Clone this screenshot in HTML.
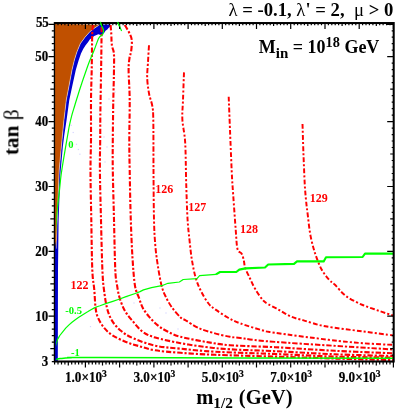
<!DOCTYPE html>
<html><head><meta charset="utf-8"><title>plot</title>
<style>html,body{margin:0;padding:0;background:#fff;}body{width:395px;height:415px;position:relative;overflow:hidden;font-family:"Liberation Serif",serif;}</style>
</head><body>
<svg width="395" height="415" viewBox="0 0 395 415" style="position:absolute;left:0;top:0">
<rect width="395" height="415" fill="#fff"/>
<polygon points="110.6,24.5 109.9,27.0 108.5,28.0 107.3,29.6 105.5,30.8 104.3,32.7 103.3,33.5 102.3,35.2 100.0,34.7 98.2,34.2 96.0,35.3 94.2,36.0 92.0,37.8 90.0,39.2 87.8,42.5 85.6,45.3 83.2,49.0 81.0,53.5 78.6,60.5 75.8,70.0 72.5,85.0 69.3,100.0 66.5,120.6 64.3,135.0 62.9,146.0 60.3,175.0 58.6,220.0 58.0,270.0 57.8,361.0 55.2,361.0 55.2,248.0 56.2,248.5 57.2,220.0 59.2,170.0 61.4,146.0 63.9,120.6 66.3,100.0 69.2,85.0 72.0,70.0 74.4,60.0 76.9,52.0 80.4,43.5 85.0,37.2 90.0,31.6 93.2,29.1 97.7,26.0 99.7,24.5" fill="#0000cd"/>
<polygon points="55.2,23.5 99.7,24.5 97.7,26.0 93.2,29.1 90.0,31.6 85.0,37.2 80.4,43.5 76.9,52.0 74.4,60.0 72.0,70.0 69.2,85.0 66.3,100.0 63.9,120.6 61.4,146.0 59.2,170.0 57.2,220.0 56.2,248.5 55.2,248.5" fill="#c05000" stroke="#fff" stroke-width="0.5"/>
<rect x="177.4" y="328.4" width="1.2" height="1.2" fill="#d4d4ff"/>
<rect x="89.9" y="326.0" width="1.2" height="1.2" fill="#d4d4ff"/>
<rect x="75.9" y="143.7" width="1.2" height="1.2" fill="#d4d4ff"/>
<rect x="77.8" y="148.9" width="1.2" height="1.2" fill="#d4d4ff"/>
<rect x="79.3" y="153.6" width="1.2" height="1.2" fill="#d4d4ff"/>
<rect x="70.6" y="124.8" width="1.2" height="1.2" fill="#d4d4ff"/>
<rect x="72.6" y="131.9" width="1.2" height="1.2" fill="#d4d4ff"/>
<rect x="114.4" y="91.4" width="1.2" height="1.2" fill="#d4d4ff"/>
<rect x="108.4" y="98.4" width="1.2" height="1.2" fill="#d4d4ff"/>
<rect x="103.4" y="136.4" width="1.2" height="1.2" fill="#d4d4ff"/>
<rect x="106.4" y="146.4" width="1.2" height="1.2" fill="#d4d4ff"/>
<rect x="104.4" y="161.4" width="1.2" height="1.2" fill="#d4d4ff"/>
<rect x="126.4" y="296.4" width="1.2" height="1.2" fill="#d4d4ff"/>
<rect x="133.4" y="302.4" width="1.2" height="1.2" fill="#d4d4ff"/>
<rect x="159.4" y="307.4" width="1.2" height="1.2" fill="#d4d4ff"/>
<rect x="165.4" y="312.4" width="1.2" height="1.2" fill="#d4d4ff"/>
<path d="M93.0 25.0C92.9 26.7 92.4 27.5 92.2 35.0C92.0 42.5 91.9 59.2 91.7 70.0C91.5 80.8 91.1 88.3 91.0 100.0C90.9 111.7 91.1 128.3 91.0 140.0C90.9 151.7 90.5 156.7 90.5 170.0C90.5 183.3 91.0 203.3 91.3 220.0C91.6 236.7 91.8 258.3 92.3 270.0C92.8 281.7 93.8 283.7 94.3 290.0C94.8 296.3 95.0 303.3 95.6 308.0C96.2 312.7 96.6 314.6 98.1 318.0C99.6 321.4 101.9 325.2 104.4 328.2C106.9 331.2 109.7 333.5 113.3 335.8C116.9 338.1 121.8 340.3 126.0 342.0C130.2 343.7 133.7 344.6 138.6 346.0C143.5 347.4 148.3 349.2 155.3 350.3C162.3 351.4 170.7 352.1 180.6 352.8C190.5 353.6 199.3 354.2 215.0 354.8C230.7 355.4 255.0 356.0 275.0 356.6C295.0 357.2 315.3 358.0 335.0 358.6C354.7 359.2 383.3 359.8 393.0 360.0" fill="none" stroke="#ff0000" stroke-width="2.1" stroke-dasharray="5.3 1.9 2.2 1.9"/>
<path d="M101.6 27.0C101.6 29.2 101.6 32.8 101.5 40.0C101.4 47.2 101.3 58.3 101.1 70.0C100.9 81.7 100.6 98.3 100.4 110.0C100.2 121.7 100.3 130.0 100.2 140.0C100.1 150.0 99.8 156.7 99.9 170.0C100.0 183.3 100.6 203.3 101.0 220.0C101.4 236.7 101.9 258.3 102.4 270.0C102.9 281.7 103.2 283.7 104.0 290.0C104.8 296.3 105.7 302.9 107.0 308.0C108.3 313.1 109.7 316.8 112.0 320.6C114.3 324.4 117.3 327.8 120.9 330.8C124.5 333.8 127.8 335.9 133.5 338.4C139.2 340.9 147.5 344.0 155.3 345.7C163.2 347.4 170.7 347.7 180.6 348.7C190.5 349.7 199.3 350.8 215.0 351.7C230.7 352.6 255.0 353.2 275.0 354.0C295.0 354.8 315.3 356.0 335.0 356.6C354.7 357.2 383.3 357.4 393.0 357.6" fill="none" stroke="#ff0000" stroke-width="2.1" stroke-dasharray="5.3 1.9 2.2 1.9"/>
<path d="M110.6 25.0C110.7 26.5 111.1 31.2 111.3 34.0C111.5 36.8 111.4 39.8 111.6 42.0C111.8 44.2 111.8 45.3 112.2 47.0C112.6 48.7 113.4 49.8 113.7 52.0C114.0 54.2 114.1 56.2 114.1 60.0C114.1 63.8 114.0 68.3 113.9 75.0C113.8 81.7 113.5 89.2 113.3 100.0C113.1 110.8 112.9 128.3 112.8 140.0C112.7 151.7 112.6 156.7 112.8 170.0C113.0 183.3 113.6 203.3 114.0 220.0C114.4 236.7 114.8 259.2 115.3 270.0C115.8 280.8 116.3 280.4 117.0 285.0C117.7 289.6 118.3 293.6 119.6 297.8C120.9 302.1 122.6 306.7 124.7 310.5C126.8 314.3 129.3 317.1 132.3 320.6C135.3 324.2 138.9 329.0 142.7 331.8C146.5 334.6 149.0 335.7 155.3 337.6C161.6 339.5 172.2 341.6 180.6 343.2C189.0 344.8 197.7 346.0 205.9 347.0C214.1 348.0 218.5 348.6 230.0 349.3C241.5 350.0 257.5 350.4 275.0 351.2C292.5 352.0 315.3 353.5 335.0 354.3C354.7 355.1 383.3 355.7 393.0 356.0" fill="none" stroke="#ff0000" stroke-width="2.1" stroke-dasharray="5.3 1.9 2.2 1.9"/>
<path d="M124.8 25.0C125.5 26.3 128.0 30.2 129.2 32.7C130.4 35.2 131.5 37.1 131.8 40.3C132.1 43.4 131.5 48.6 131.1 51.6C130.7 54.6 129.9 54.9 129.5 58.0C129.1 61.1 128.6 63.0 128.6 70.0C128.6 77.0 129.6 88.3 129.7 100.0C129.8 111.7 129.3 128.3 129.3 140.0C129.3 151.7 129.4 156.7 129.7 170.0C129.9 183.3 130.3 205.3 130.8 220.0C131.3 234.7 131.8 247.0 132.5 258.0C133.2 269.0 133.9 279.2 135.0 285.8C136.1 292.4 137.6 294.0 138.9 297.6C140.2 301.2 141.0 304.5 142.7 307.7C144.4 310.9 146.5 313.7 149.0 316.6C151.5 319.6 154.6 322.9 157.8 325.4C161.0 327.9 164.2 329.9 168.0 331.8C171.8 333.7 174.3 335.1 180.6 336.8C186.9 338.5 197.8 340.5 206.0 341.9C214.2 343.3 218.5 344.3 230.0 345.2C241.5 346.1 257.5 346.3 275.0 347.2C292.5 348.1 315.3 349.8 335.0 350.8C354.7 351.8 383.3 352.9 393.0 353.3" fill="none" stroke="#ff0000" stroke-width="2.1" stroke-dasharray="5.3 1.9 2.2 1.9"/>
<path d="M149.0 45.3C148.8 48.1 148.3 56.5 148.0 62.0C147.7 67.5 147.0 73.0 147.2 78.2C147.4 83.4 148.2 88.8 149.0 93.4C149.8 98.0 151.6 101.6 152.3 106.0C153.0 110.4 153.1 109.3 153.3 120.0C153.5 130.7 153.4 153.3 153.5 170.0C153.6 186.7 153.7 207.4 154.0 220.0C154.3 232.6 154.7 237.7 155.3 245.3C155.9 252.9 156.8 258.9 157.8 265.6C158.9 272.4 160.3 280.7 161.6 285.8C162.9 290.9 163.7 292.4 165.4 296.0C167.1 299.6 169.3 303.7 171.8 307.3C174.3 310.9 178.3 315.3 180.6 317.5C182.9 319.7 182.7 318.6 185.7 320.4C188.7 322.1 193.8 325.9 198.4 328.0C203.0 330.1 208.2 331.5 213.5 333.0C218.8 334.5 225.5 336.0 230.0 336.8C234.5 337.6 232.8 337.1 240.3 338.0C247.8 338.9 249.6 340.0 275.0 341.9C300.4 343.8 373.3 348.2 393.0 349.5" fill="none" stroke="#ff0000" stroke-width="1.95" stroke-dasharray="5.3 1.9 2.2 1.9"/>
<path d="M184.0 72.4C183.8 77.0 183.3 92.1 183.0 100.0C182.7 107.9 182.0 112.9 182.4 120.0C182.8 127.1 184.6 132.2 185.2 142.8C185.8 153.4 185.8 170.4 186.2 183.3C186.6 196.2 187.0 210.6 187.6 220.0C188.2 229.4 188.8 233.2 189.5 240.0C190.2 246.8 190.9 254.1 192.0 260.5C193.1 266.9 194.3 273.1 195.8 278.2C197.3 283.3 198.8 286.7 200.9 290.9C203.0 295.1 206.0 300.3 208.5 303.5C211.0 306.7 212.8 307.6 216.0 309.9C219.2 312.2 223.6 315.2 227.7 317.5C231.8 319.8 234.4 321.2 240.3 323.4C246.2 325.6 257.2 328.9 263.0 330.5C268.8 332.1 264.0 331.2 275.0 332.8C286.0 334.4 314.2 338.1 328.8 339.8C343.4 341.5 351.9 342.4 362.6 343.2C373.3 344.0 387.9 344.6 393.0 344.9" fill="none" stroke="#ff0000" stroke-width="1.95" stroke-dasharray="4.8 2.1 2.1 2.1"/>
<path d="M228.7 96.7C228.9 102.2 229.5 117.6 230.0 130.0C230.5 142.4 231.2 160.2 231.7 171.0C232.2 181.8 232.5 185.2 233.2 195.0C233.9 204.8 235.0 220.5 235.7 229.5C236.4 238.5 236.5 245.0 237.5 249.0C238.5 253.0 240.5 251.7 241.5 253.5C242.5 255.3 243.1 257.4 243.7 259.8C244.3 262.2 244.2 265.0 245.2 268.0C246.2 271.0 248.2 274.6 249.8 278.0C251.4 281.4 252.8 284.9 255.0 288.6C257.1 292.3 260.5 297.4 262.7 300.0C264.9 302.6 265.3 302.4 268.0 304.0C270.7 305.6 275.0 307.7 278.8 309.8C282.6 311.9 286.9 314.8 291.0 316.6C295.1 318.4 297.9 318.8 303.6 320.4C309.3 322.0 315.6 324.5 325.4 326.3C335.2 328.1 351.3 329.9 362.6 331.4C373.9 332.9 387.9 334.7 393.0 335.4" fill="none" stroke="#ff0000" stroke-width="1.95" stroke-dasharray="4.8 2.1 2.1 2.1"/>
<path d="M302.5 124.0C302.7 129.2 303.1 145.1 303.5 155.0C303.9 164.9 304.3 175.8 304.7 183.3C305.1 190.8 305.5 194.8 306.0 200.0C306.5 205.2 306.9 208.4 307.7 214.3C308.4 220.2 309.2 229.0 310.5 235.6C311.8 242.2 313.4 248.3 315.3 254.0C317.2 259.6 319.3 265.2 321.6 269.5C323.9 273.8 326.8 277.1 329.0 279.7C331.2 282.2 332.2 282.1 335.0 284.8C337.8 287.5 341.1 292.5 345.7 295.9C350.3 299.3 357.0 302.5 362.6 305.0C368.2 307.5 374.4 309.2 379.5 311.0C384.6 312.8 390.8 314.8 393.0 315.5" fill="none" stroke="#ff0000" stroke-width="1.95" stroke-dasharray="4.8 2.1 2.1 2.1"/>
<path d="M54.5 250.0C54.8 245.8 55.5 232.2 56.0 225.0C56.5 217.8 56.9 212.8 57.5 207.0C58.1 201.2 58.9 195.3 59.5 190.0C60.1 184.7 60.3 180.8 61.1 175.0C61.9 169.2 63.1 162.0 64.2 155.3C65.3 148.6 66.8 140.1 67.7 135.0C68.6 129.9 68.8 128.3 69.5 125.0C70.2 121.7 70.9 118.6 71.8 115.3C72.7 112.0 73.9 108.4 74.9 105.0C75.9 101.6 77.0 98.3 78.0 95.0C79.0 91.7 80.1 88.3 81.2 85.0C82.3 81.7 83.4 78.3 84.6 75.0C85.8 71.7 87.2 67.5 88.1 65.0C89.0 62.5 89.0 62.5 90.0 60.0C91.0 57.5 92.8 53.6 94.2 50.0C95.7 46.4 97.3 40.8 98.7 38.2C100.1 35.6 102.0 35.6 102.8 34.2C103.6 32.9 103.7 31.5 103.5 30.1C103.3 28.7 102.3 27.4 101.8 26.0C101.3 24.6 100.5 22.7 100.3 22.0" fill="none" stroke="#00ff00" stroke-width="1.2"/>
<path d="M117.6 22.0C117.9 22.8 118.9 25.0 119.6 26.5C120.3 28.0 121.3 30.2 121.6 31.0" fill="none" stroke="#00ff00" stroke-width="1.2"/>
<path d="M55.0 360.0C55.3 359.9 56.1 359.4 57.0 359.2C57.9 359.0 57.9 358.8 60.1 358.6C62.3 358.4 63.6 358.0 70.3 357.8C77.0 357.6 46.2 357.5 100.0 357.6C153.8 357.7 344.2 358.2 393.0 358.3" fill="none" stroke="#00ff00" stroke-width="1.5"/>
<polyline points="54.8,350.5 55.2,347.5 56.2,343.5 57.6,339.4 59.8,335.5 62.7,331.8 65.7,328.2 69.0,324.9 72.0,322.2 75.3,319.8 78.4,317.5 81.6,315.4 84.8,313.4 88.0,311.6 91.0,309.7 94.3,307.9 97.0,306.8 100.0,305.8 106.5,303.4 112.8,301.4 119.0,299.3 126.0,296.6 136.0,293.2 140.0,291.6 143.5,289.9 151.5,287.7 163.0,285.3 168.0,283.3 179.4,282.0 183.2,279.5 197.0,278.7 199.6,275.7 216.0,274.4" fill="none" stroke="#00ff00" stroke-width="1.2" stroke-linejoin="round"/>
<polyline points="216.0,274.4 220.0,272.0 236.3,272.0 239.3,269.6 245.4,268.4 265.0,267.5 268.2,264.5 294.0,263.9 297.0,261.4 323.7,261.4 326.0,257.3 362.6,257.0 365.0,253.6 393.0,253.6" fill="none" stroke="#00ff00" stroke-width="2.1" stroke-linejoin="round"/>
<path d="M51.8 361.6H54.8M391.7 361.6H393.7M51.8 355.1H54.8M391.7 355.1H393.7M50.3 348.6H54.8M390.2 348.6H393.7M51.8 342.1H54.8M391.7 342.1H393.7M51.8 335.7H54.8M391.7 335.7H393.7M51.8 329.2H54.8M391.7 329.2H393.7M51.8 322.7H54.8M391.7 322.7H393.7M48.5 316.2H54.8M387.2 316.2H393.7M51.8 309.7H54.8M391.7 309.7H393.7M51.8 303.2H54.8M391.7 303.2H393.7M51.8 296.7H54.8M391.7 296.7H393.7M51.8 290.2H54.8M391.7 290.2H393.7M50.3 283.8H54.8M390.2 283.8H393.7M51.8 277.3H54.8M391.7 277.3H393.7M51.8 270.8H54.8M391.7 270.8H393.7M51.8 264.3H54.8M391.7 264.3H393.7M51.8 257.8H54.8M391.7 257.8H393.7M48.5 251.3H54.8M387.2 251.3H393.7M51.8 244.8H54.8M391.7 244.8H393.7M51.8 238.3H54.8M391.7 238.3H393.7M51.8 231.9H54.8M391.7 231.9H393.7M51.8 225.4H54.8M391.7 225.4H393.7M50.3 218.9H54.8M390.2 218.9H393.7M51.8 212.4H54.8M391.7 212.4H393.7M51.8 205.9H54.8M391.7 205.9H393.7M51.8 199.4H54.8M391.7 199.4H393.7M51.8 192.9H54.8M391.7 192.9H393.7M48.5 186.5H54.8M387.2 186.5H393.7M51.8 180.0H54.8M391.7 180.0H393.7M51.8 173.5H54.8M391.7 173.5H393.7M51.8 167.0H54.8M391.7 167.0H393.7M51.8 160.5H54.8M391.7 160.5H393.7M50.3 154.0H54.8M390.2 154.0H393.7M51.8 147.5H54.8M391.7 147.5H393.7M51.8 141.0H54.8M391.7 141.0H393.7M51.8 134.6H54.8M391.7 134.6H393.7M51.8 128.1H54.8M391.7 128.1H393.7M48.5 121.6H54.8M387.2 121.6H393.7M51.8 115.1H54.8M391.7 115.1H393.7M51.8 108.6H54.8M391.7 108.6H393.7M51.8 102.1H54.8M391.7 102.1H393.7M51.8 95.6H54.8M391.7 95.6H393.7M50.3 89.1H54.8M390.2 89.1H393.7M51.8 82.7H54.8M391.7 82.7H393.7M51.8 76.2H54.8M391.7 76.2H393.7M51.8 69.7H54.8M391.7 69.7H393.7M51.8 63.2H54.8M391.7 63.2H393.7M48.5 56.7H54.8M387.2 56.7H393.7M51.8 50.2H54.8M391.7 50.2H393.7M51.8 43.7H54.8M391.7 43.7H393.7M51.8 37.2H54.8M391.7 37.2H393.7M51.8 30.8H54.8M391.7 30.8H393.7M48.5 24.3H54.8M387.2 24.3H393.7M54.6 361.5v3M54.6 23.1v2.2M58.0 361.5v3M58.0 23.1v2.2M61.5 361.5v3M61.5 23.1v2.2M64.9 361.5v3M64.9 23.1v2.2M68.3 361.5v4M68.3 23.1v3M71.7 361.5v3M71.7 23.1v2.2M75.2 361.5v3M75.2 23.1v2.2M78.6 361.5v3M78.6 23.1v2.2M82.0 361.5v3M82.0 23.1v2.2M85.4 361.5v6M85.4 23.1v5.8M88.8 361.5v3M88.8 23.1v2.2M92.3 361.5v3M92.3 23.1v2.2M95.7 361.5v3M95.7 23.1v2.2M99.1 361.5v3M99.1 23.1v2.2M102.5 361.5v4M102.5 23.1v3M106.0 361.5v3M106.0 23.1v2.2M109.4 361.5v3M109.4 23.1v2.2M112.8 361.5v3M112.8 23.1v2.2M116.2 361.5v3M116.2 23.1v2.2M119.6 361.5v6M119.6 23.1v5.8M123.1 361.5v3M123.1 23.1v2.2M126.5 361.5v3M126.5 23.1v2.2M129.9 361.5v3M129.9 23.1v2.2M133.3 361.5v3M133.3 23.1v2.2M136.8 361.5v4M136.8 23.1v3M140.2 361.5v3M140.2 23.1v2.2M143.6 361.5v3M143.6 23.1v2.2M147.0 361.5v3M147.0 23.1v2.2M150.4 361.5v3M150.4 23.1v2.2M153.9 361.5v6M153.9 23.1v5.8M157.3 361.5v3M157.3 23.1v2.2M160.7 361.5v3M160.7 23.1v2.2M164.1 361.5v3M164.1 23.1v2.2M167.5 361.5v3M167.5 23.1v2.2M171.0 361.5v4M171.0 23.1v3M174.4 361.5v3M174.4 23.1v2.2M177.8 361.5v3M177.8 23.1v2.2M181.2 361.5v3M181.2 23.1v2.2M184.7 361.5v3M184.7 23.1v2.2M188.1 361.5v6M188.1 23.1v5.8M191.5 361.5v3M191.5 23.1v2.2M194.9 361.5v3M194.9 23.1v2.2M198.3 361.5v3M198.3 23.1v2.2M201.8 361.5v3M201.8 23.1v2.2M205.2 361.5v4M205.2 23.1v3M208.6 361.5v3M208.6 23.1v2.2M212.0 361.5v3M212.0 23.1v2.2M215.5 361.5v3M215.5 23.1v2.2M218.9 361.5v3M218.9 23.1v2.2M222.3 361.5v6M222.3 23.1v5.8M225.7 361.5v3M225.7 23.1v2.2M229.1 361.5v3M229.1 23.1v2.2M232.6 361.5v3M232.6 23.1v2.2M236.0 361.5v3M236.0 23.1v2.2M239.4 361.5v4M239.4 23.1v3M242.8 361.5v3M242.8 23.1v2.2M246.3 361.5v3M246.3 23.1v2.2M249.7 361.5v3M249.7 23.1v2.2M253.1 361.5v3M253.1 23.1v2.2M256.5 361.5v6M256.5 23.1v5.8M259.9 361.5v3M259.9 23.1v2.2M263.4 361.5v3M263.4 23.1v2.2M266.8 361.5v3M266.8 23.1v2.2M270.2 361.5v3M270.2 23.1v2.2M273.6 361.5v4M273.6 23.1v3M277.1 361.5v3M277.1 23.1v2.2M280.5 361.5v3M280.5 23.1v2.2M283.9 361.5v3M283.9 23.1v2.2M287.3 361.5v3M287.3 23.1v2.2M290.7 361.5v6M290.7 23.1v5.8M294.2 361.5v3M294.2 23.1v2.2M297.6 361.5v3M297.6 23.1v2.2M301.0 361.5v3M301.0 23.1v2.2M304.4 361.5v3M304.4 23.1v2.2M307.8 361.5v4M307.8 23.1v3M311.3 361.5v3M311.3 23.1v2.2M314.7 361.5v3M314.7 23.1v2.2M318.1 361.5v3M318.1 23.1v2.2M321.5 361.5v3M321.5 23.1v2.2M325.0 361.5v6M325.0 23.1v5.8M328.4 361.5v3M328.4 23.1v2.2M331.8 361.5v3M331.8 23.1v2.2M335.2 361.5v3M335.2 23.1v2.2M338.6 361.5v3M338.6 23.1v2.2M342.1 361.5v4M342.1 23.1v3M345.5 361.5v3M345.5 23.1v2.2M348.9 361.5v3M348.9 23.1v2.2M352.3 361.5v3M352.3 23.1v2.2M355.8 361.5v3M355.8 23.1v2.2M359.2 361.5v6M359.2 23.1v5.8M362.6 361.5v3M362.6 23.1v2.2M366.0 361.5v3M366.0 23.1v2.2M369.4 361.5v3M369.4 23.1v2.2M372.9 361.5v3M372.9 23.1v2.2M376.3 361.5v4M376.3 23.1v3M379.7 361.5v3M379.7 23.1v2.2M383.1 361.5v3M383.1 23.1v2.2M386.6 361.5v3M386.6 23.1v2.2M390.0 361.5v3M390.0 23.1v2.2M393.4 361.5v6M393.4 23.1v5.8" stroke="#000" stroke-width="1.2" fill="none"/>
<rect x="54.8" y="23.05" width="338.9" height="338.45" fill="none" stroke="#000" stroke-width="2.05"/>
<path d="M101.8 26L100.3 22M117.6 22L119.6 26.5" fill="none" stroke="#00ff00" stroke-width="1.2"/>
<polygon points="55.15,24.3 56.2,24.3 56.2,240 55.15,248" fill="#c05000"/>
<polygon points="55.15,248 56.2,240 56.2,360.4 55.15,360.4" fill="#0000cd"/>
<g style="opacity:0.999">
<text transform="translate(48.8,27.3) scale(0.95,1)" font-family="Liberation Serif, serif" font-weight="bold" font-size="13.6" text-anchor="end" stroke="#000" stroke-width="0.22">55</text>
<text transform="translate(48.1,61.2) scale(0.95,1)" font-family="Liberation Serif, serif" font-weight="bold" font-size="13.6" text-anchor="end" stroke="#000" stroke-width="0.22">50</text>
<text transform="translate(48.1,126.1) scale(0.95,1)" font-family="Liberation Serif, serif" font-weight="bold" font-size="13.6" text-anchor="end" stroke="#000" stroke-width="0.22">40</text>
<text transform="translate(48.1,191.0) scale(0.95,1)" font-family="Liberation Serif, serif" font-weight="bold" font-size="13.6" text-anchor="end" stroke="#000" stroke-width="0.22">30</text>
<text transform="translate(48.1,255.8) scale(0.95,1)" font-family="Liberation Serif, serif" font-weight="bold" font-size="13.6" text-anchor="end" stroke="#000" stroke-width="0.22">20</text>
<text transform="translate(48.1,320.7) scale(0.95,1)" font-family="Liberation Serif, serif" font-weight="bold" font-size="13.6" text-anchor="end" stroke="#000" stroke-width="0.22">10</text>
<text transform="translate(48.1,366.1) scale(0.95,1)" font-family="Liberation Serif, serif" font-weight="bold" font-size="13.6" text-anchor="end" stroke="#000" stroke-width="0.22">3</text>
<text transform="translate(85.9,381.9) scale(0.89,1)" font-family="Liberation Serif, serif" font-weight="bold" font-size="14.8" text-anchor="middle" stroke="#000" stroke-width="0.22">1.0×10<tspan dy="-5.2" font-size="10.8">3</tspan></text>
<text transform="translate(154.4,381.9) scale(0.89,1)" font-family="Liberation Serif, serif" font-weight="bold" font-size="14.8" text-anchor="middle" stroke="#000" stroke-width="0.22">3.0×10<tspan dy="-5.2" font-size="10.8">3</tspan></text>
<text transform="translate(222.8,381.9) scale(0.89,1)" font-family="Liberation Serif, serif" font-weight="bold" font-size="14.8" text-anchor="middle" stroke="#000" stroke-width="0.22">5.0×10<tspan dy="-5.2" font-size="10.8">3</tspan></text>
<text transform="translate(291.2,381.9) scale(0.89,1)" font-family="Liberation Serif, serif" font-weight="bold" font-size="14.8" text-anchor="middle" stroke="#000" stroke-width="0.22">7.0×10<tspan dy="-5.2" font-size="10.8">3</tspan></text>
<text transform="translate(359.7,381.9) scale(0.89,1)" font-family="Liberation Serif, serif" font-weight="bold" font-size="14.8" text-anchor="middle" stroke="#000" stroke-width="0.22">9.0×10<tspan dy="-5.2" font-size="10.8">3</tspan></text>
<text x="70.5" y="288.5" font-family="Liberation Serif, serif" font-weight="bold" font-size="12" fill="#ff0000">122</text>
<text x="155.3" y="192.5" font-family="Liberation Serif, serif" font-weight="bold" font-size="12" fill="#ff0000">126</text>
<text x="188.2" y="211.3" font-family="Liberation Serif, serif" font-weight="bold" font-size="12" fill="#ff0000">127</text>
<text x="240" y="233" font-family="Liberation Serif, serif" font-weight="bold" font-size="12" fill="#ff0000">128</text>
<text x="309.8" y="201.5" font-family="Liberation Serif, serif" font-weight="bold" font-size="12" fill="#ff0000">129</text>
<text x="68.3" y="147.5" font-family="Liberation Serif, serif" font-weight="bold" font-size="10.6" fill="#00ff00">0</text>
<text x="65.2" y="314.2" font-family="Liberation Serif, serif" font-weight="bold" font-size="10.6" fill="#00ff00">-0.5</text>
<text x="71" y="356" font-family="Liberation Serif, serif" font-weight="bold" font-size="10.6" fill="#00ff00">-1</text>
<text transform="translate(393.3,16.4) scale(0.984,1)" font-family="Liberation Serif, serif" font-weight="bold" font-size="19" text-anchor="end"><tspan font-weight="normal">λ</tspan> = -0.1, <tspan font-weight="normal">λ</tspan>' = 2,&#160; <tspan font-weight="normal">μ</tspan> &gt; 0</text>
<text x="258.8" y="52.8" font-family="Liberation Serif, serif" font-weight="bold" font-size="18">M<tspan dy="5.5" font-size="15">in</tspan><tspan dy="-5.5"> = 10</tspan><tspan dy="-6.2" font-size="14.3">18</tspan><tspan dy="6.2"> GeV</tspan></text>
<text x="196.2" y="403.6" font-family="Liberation Serif, serif" font-weight="bold" font-size="20.6">m<tspan dy="4.2" font-size="15.3">1/2</tspan><tspan dy="-4.2" dx="0.8"> (GeV)</tspan></text>
<text transform="translate(18.4,155.2) rotate(-90)" font-family="Liberation Serif, serif" font-weight="bold" font-size="21.4">tan <tspan font-weight="normal">β</tspan></text>
</g>
</svg>
</body></html>
